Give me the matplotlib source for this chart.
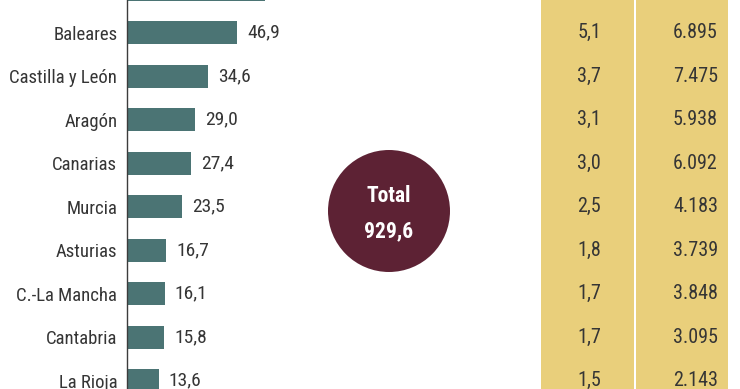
import matplotlib
matplotlib.use("Agg")
import matplotlib.pyplot as plt
import matplotlib.transforms as mtransforms
from matplotlib.patches import Circle, Rectangle
from matplotlib import font_manager

available = set(f.name for f in font_manager.fontManager.ttflist)
prefs = ['Roboto Condensed', 'Archivo Narrow', 'Fira Sans Condensed', 'Liberation Sans Narrow', 'Roboto']
fam = [p for p in prefs if p in available][:1] + ['DejaVu Sans']
plt.rcParams['font.family'] = fam

categories = ["Galicia", "Baleares", "Castilla y León", "Aragón", "Canarias", "Murcia",
              "Asturias", "C.-La Mancha", "Cantabria", "La Rioja"]
values = [58.8, 46.9, 34.6, 29.0, 27.4, 23.5, 16.7, 16.1, 15.8, 13.6]
col1 = ["6,3", "5,1", "3,7", "3,1", "3,0", "2,5", "1,8", "1,7", "1,7", "1,5"]
col2 = ["8.820", "6.895", "7.475", "5.938", "6.092", "4.183", "3.739", "3.848", "3.095", "2.143"]
total_label = "Total"
total_value = "929,6"

TXT = '#353535'
W, H = 740, 389
fig = plt.figure(figsize=(W / 100, H / 100), dpi=100)
fig.patch.set_facecolor('white')

# table background columns
for x0, x1 in [(541, 634), (636, 728)]:
    fig.patches.append(Rectangle((x0 / W, 0), (x1 - x0) / W, 1, transform=fig.transFigure,
                                 facecolor='#e9cf7b', edgecolor='none', zorder=-5))

ax_left = 127 / W
ax_right = 330 / W
ax = fig.add_axes([ax_left, 0, ax_right - ax_left, 1])
ax.set_facecolor('none')
ax.set_zorder(2)
ppu = 2.345

ypos = list(range(len(categories)))
ax.barh(ypos, values, height=0.52, color='#4b7474', zorder=2)
for s in ['top', 'right', 'bottom']:
    ax.spines[s].set_visible(False)
ax.spines['left'].set_color('#3c3c3c')
ax.spines['left'].set_linewidth(1.0)
ax.set_xticks([])
ax.set_yticks(ypos)
ax.set_yticklabels(categories, fontsize=13.5, color=TXT)
ax.tick_params(axis='y', length=0, pad=7)

spacing = 43.5
c1 = 32.8
ytop = 1 - c1 / spacing
ybot = 1 + (H - c1) / spacing
ax.set_xlim(0, (330 - 127) / ppu)
ax.set_ylim(ybot, ytop)

for y, v in zip(ypos, values):
    ax.text(v + 10 / ppu, y, f"{v:.1f}".replace('.', ','), va='center', ha='left',
            fontsize=14, color=TXT, clip_on=False)

trans = mtransforms.blended_transform_factory(fig.transFigure, ax.transData)
for y, a, b in zip(ypos, col1, col2):
    ax.text(601 / W, y, a, transform=trans, ha='right', va='center', fontsize=14.5,
            color=TXT, clip_on=False)
    ax.text(718 / W, y, b, transform=trans, ha='right', va='center', fontsize=14.5,
            color=TXT, clip_on=False)

# total circle
fig.patches.append(Circle((389 / 100, (H - 211) / 100), 0.61, transform=fig.dpi_scale_trans,
                          facecolor='#5d2234', edgecolor='none', zorder=3))
fig.text(389 / W, 1 - 196 / H, total_label, ha='center', va='center', fontsize=15.5,
         fontweight='bold', color='white', zorder=4)
fig.text(389 / W, 1 - 231 / H, total_value, ha='center', va='center', fontsize=15.5,
         fontweight='bold', color='white', zorder=4)

fig.savefig('out.png', dpi=100, facecolor='white')
